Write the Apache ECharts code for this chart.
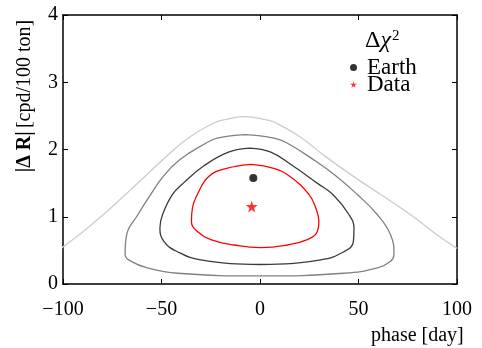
<!DOCTYPE html>
<html>
<head>
<meta charset="utf-8">
<script src="https://cdn.jsdelivr.net/npm/echarts@6/dist/echarts.min.js"></script>
<style>
html,body{margin:0;padding:0;background:#fff;}
#chart{width:482px;height:348px;}
</style>
</head>
<body>
<div id="chart"></div>
<script>
// contour levels (phase [day], |dR| [cpd/100 ton])
var lightX = [-101,-91,-79.2,-66.5,-58.4,-47.4,-35.5,-23.7,-18.6,-7.6,3.4,8.5,20.3,32.1,47.4,61.3,76.5,90,100];
var lightY = [0.53,0.75,1.04,1.38,1.60,1.90,2.19,2.39,2.44,2.49,2.44,2.39,2.19,1.92,1.60,1.33,1.03,0.73,0.53];

var midX = [-7.6,7.1,13.5,27.1,38.9,49.4,59.6,66.3,68,66.3,59.6,42.6,0.3,-41.9,-57.2,-65.6,-68.5,-67.7,-62,-55.5,-49.1,-40.6,-27.1,-21.6,-7.6];
var midY = [2.22,2.17,2.10,1.85,1.60,1.33,1.03,0.73,0.44,0.34,0.24,0.16,0.12,0.16,0.24,0.34,0.44,0.73,1.03,1.33,1.60,1.85,2.10,2.17,2.22];

var darkX = [-5.1,5.5,17,29,37,45.2,47.7,47.4,42.6,30.8,0.3,-30.1,-41.9,-48.7,-50.8,-49.5,-44.5,-38.9,-28.8,-16,-5.1];
var darkY = [2.02,1.96,1.75,1.50,1.33,1.03,0.83,0.63,0.48,0.36,0.29,0.36,0.48,0.63,0.83,1.03,1.33,1.50,1.75,1.96,2.02];

var redX = [-4.2,7,15.2,24.9,28.3,29.9,29.1,24,13.9,0.3,-13.2,-25,-31.8,-34.8,-34.3,-31.8,-26,-17,-4.2];
var redY = [1.78,1.72,1.60,1.33,1.13,0.93,0.78,0.66,0.58,0.54,0.58,0.66,0.78,0.93,1.13,1.33,1.60,1.72,1.78];

var earthPt = [-3.4, 1.575];
var dataPt = [-4.2, 1.153];

var xTicks = [-100, -50, 0, 50, 100];
var yTicks = [0, 1, 2, 3, 4];

function zip(xs, ys){
	var out = [];
	for (var i = 0; i < xs.length; i++) out.push([xs[i], ys[i]]);
	return out;
}

var starPath = 'path://M50,0 L61,35 L98,35 L68,57 L79,91 L50,70 L21,91 L32,57 L2,35 L39,35 Z';
var serif = '"Liberation Serif", "DejaVu Serif", serif';

function contour(data, color){
	return {
		type: 'line',
		data: data,
		smooth: 0.45,
		showSymbol: false,
		silent: true,
		lineStyle: {color: color, width: 1.3},
		z: 2
	};
}

function frameAxis(pos, isX, showLabel){
	var ticks = isX ? xTicks : yTicks;
	var ax = {
		type: 'value', position: pos,
		min: ticks[0], max: ticks[ticks.length - 1], interval: isX ? 50 : 1,
		axisLine: {show: true, onZero: false, lineStyle: {color: '#000', width: 1.5}},
		axisTick: {show: true, inside: true, length: 5, lineStyle: {color: '#000'}},
		splitLine: {show: false},
		axisLabel: {show: false}
	};
	if (showLabel) {
		ax.axisLabel = {
			show: true, color: '#000', fontFamily: serif, fontSize: 20,
			margin: isX ? 16 : 5,
			formatter: function(v){ return v < 0 ? '\u2212' + Math.abs(v) : '' + v; }
		};
	}
	return ax;
}

var chart = echarts.init(document.getElementById('chart'));
chart.setOption({
	animation: false,
	backgroundColor: '#fff',
	grid: {left: 63, right: 25, top: 15, bottom: 64},
	xAxis: [frameAxis('bottom', true, true), frameAxis('top', true, false)],
	yAxis: [frameAxis('left', false, true), frameAxis('right', false, false)],
	legend: {
		data: [{name: 'Earth', icon: 'circle'}, {name: 'Data', icon: starPath}],
		orient: 'vertical',
		left: 345, top: 51,
		itemWidth: 7, itemHeight: 7, itemGap: -6,
		textStyle: {color: '#000', fontFamily: serif, fontSize: 23, padding: [0, 0, 0, 5]}
	},
	graphic: [{
		type: 'text', left: 365, top: 29,
		style: {
			rich: {
				d: {fontFamily: serif, fontSize: 24, fill: '#000'},
				c: {fontFamily: serif, fontSize: 24, fontStyle: 'italic', fill: '#000'},
				s: {fontFamily: serif, fontSize: 15, fill: '#000', verticalAlign: 'top', padding: [0, 0, 9, 1]}
			},
			text: '{d|\u0394}{c|\u03c7}{s|2}'
		}
	}, {
		type: 'text', left: 371, top: 326,
		style: {text: 'phase [day]', fontFamily: serif, fontSize: 20, fill: '#000'}
	}, {
		type: 'text', x: 25, y: 96, rotation: Math.PI / 2,
		style: {
			rich: {
				b: {fontFamily: serif, fontSize: 20, fontWeight: 'bold', fill: '#000'},
				n: {fontFamily: serif, fontSize: 20, fill: '#000'}
			},
			text: '{b||\u0394 R|} {n|[cpd/100 ton]}',
			align: 'center', verticalAlign: 'middle'
		}
	}],
	series: [
		contour(zip(lightX, lightY), '#cccccc'),
		contour(zip(midX, midY), '#808080'),
		contour(zip(darkX, darkY), '#3a3a3a'),
		contour(zip(redX, redY), '#ff0000'),
		{
			name: 'Earth', type: 'scatter', data: [earthPt],
			symbol: 'circle', symbolSize: 8,
			itemStyle: {color: '#000'}, z: 5
		},
		{
			name: 'Data', type: 'scatter', data: [dataPt],
			symbol: starPath, symbolSize: 12,
			itemStyle: {color: '#ff0000'}, z: 5
		}
	]
});
</script>
</body>
</html>
